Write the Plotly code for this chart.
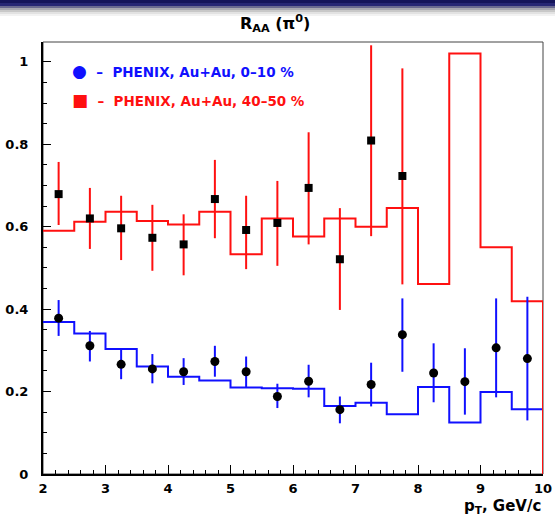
import plotly.graph_objects as go

# ---- data ----
bin_edges = [2.0, 2.5, 3.0, 3.5, 4.0, 4.5, 5.0, 5.5, 6.0, 6.5, 7.0, 7.5, 8.0, 8.5, 9.0, 9.5, 10.0]
theory_40_50 = [0.590, 0.612, 0.636, 0.614, 0.605, 0.636, 0.533, 0.620,
                0.576, 0.620, 0.600, 0.645, 0.461, 1.020, 0.550, 0.419]
theory_0_10 = [0.369, 0.341, 0.303, 0.261, 0.236, 0.227, 0.210, 0.208,
               0.207, 0.165, 0.173, 0.145, 0.211, 0.125, 0.199, 0.157]

pt_40_50 = [2.25, 2.75, 3.25, 3.75, 4.25, 4.75, 5.25, 5.75, 6.25, 6.75, 7.25, 7.75]
raa_40_50 = [0.679, 0.620, 0.596, 0.573, 0.557, 0.667, 0.592, 0.609, 0.694, 0.521, 0.809, 0.723]
hi_40_50 = [0.757, 0.694, 0.675, 0.653, 0.630, 0.762, 0.675, 0.711, 0.829, 0.645, 1.040, 0.984]
lo_40_50 = [0.604, 0.546, 0.519, 0.493, 0.482, 0.572, 0.497, 0.505, 0.557, 0.398, 0.577, 0.460]

pt_0_10 = [2.25, 2.75, 3.25, 3.75, 4.25, 4.75, 5.25, 5.75, 6.25, 6.75, 7.25, 7.75, 8.25, 8.75, 9.25, 9.75]
raa_0_10 = [0.378, 0.311, 0.266, 0.255, 0.248, 0.273, 0.248, 0.188, 0.225, 0.156, 0.217, 0.338,
            0.245, 0.224, 0.306, 0.280]
hi_0_10 = [0.422, 0.347, 0.303, 0.291, 0.281, 0.311, 0.285, 0.219, 0.265, 0.188, 0.270, 0.426,
           0.317, 0.305, 0.426, 0.430]
lo_0_10 = [0.335, 0.273, 0.230, 0.220, 0.216, 0.236, 0.211, 0.160, 0.186, 0.123, 0.164, 0.248,
           0.174, 0.144, 0.186, 0.130]

y_ticks = [0, 0.2, 0.4, 0.6, 0.8, 1.0]
y_tick_text = ["0", "0.2", "0.4", "0.6", "0.8", "1"]
x_ticks = [2, 3, 4, 5, 6, 7, 8, 9, 10]

RED = "#ff1010"
BLUE = "#1010ff"


def hist_xy(edges, vals):
    xs = list(edges) + [edges[-1]]
    ys = list(vals) + [vals[-1], 0]
    return xs, ys


fig = go.Figure()

for vals, col in [(theory_0_10, BLUE), (theory_40_50, RED)]:
    hx, hy = hist_xy(bin_edges, vals)
    fig.add_trace(go.Scatter(x=hx, y=hy, mode="lines", line=dict(color=col, width=2, shape="hv"),
                             showlegend=False, hoverinfo="skip", cliponaxis=False))

for xs, ys, hi, lo, col, sym, sz in [
    (pt_0_10, raa_0_10, hi_0_10, lo_0_10, BLUE, "circle", 9),
    (pt_40_50, raa_40_50, hi_40_50, lo_40_50, RED, "square", 8),
]:
    fig.add_trace(go.Scatter(
        x=xs, y=ys, mode="markers",
        marker=dict(color="black", symbol=sym, size=sz, line=dict(width=0)),
        error_y=dict(type="data", symmetric=False,
                     array=[h - y for h, y in zip(hi, ys)],
                     arrayminus=[y - l for y, l in zip(ys, lo)],
                     color=col, thickness=2, width=0),
        showlegend=False))

tick_font = dict(family="DejaVu Sans", size=13, color="black", weight="bold")

fig.update_xaxes(range=[2, 10], tickvals=x_ticks, ticks="inside", ticklen=9, tickwidth=1,
                 tickcolor="black", showline=True, linecolor="black", linewidth=2,
                 showgrid=False, zeroline=False, tickfont=tick_font, ticklabelstandoff=1,
                 automargin=False,
                 minor=dict(dtick=0.2, ticks="inside", ticklen=4, tickcolor="black"))
fig.update_yaxes(range=[0, 1.048], tickvals=y_ticks, ticktext=y_tick_text, ticks="inside",
                 ticklen=8, tickwidth=1, tickcolor="black", showline=True, linecolor="black",
                 linewidth=2, showgrid=False, zeroline=False, tickfont=tick_font,
                 ticklabelstandoff=10, automargin=False,
                 minor=dict(dtick=0.05, ticks="inside", ticklen=4, tickcolor="black"))

shapes = [dict(type="rect", xref="paper", yref="paper", x0=0, x1=1, y0=0, y1=1,
               line=dict(color="#444444", width=1), layer="below")]

# slide header band (pixel rows converted to paper coords)
H = 432.0
W = 500.0
def py(p):
    return 1 + (42 - p) / H
band = [(0, 3, "#14145a"), (3, 6, "#262674"), (6, 8, "#6a6a90"), (8, 10, "#a8a8b0"),
        (10, 12, "#c8c8c8"), (12, 14, "#e2e2e2"), (14, 16, "#f2f2f2")]
for a, b, c in band:
    shapes.append(dict(type="rect", xref="paper", yref="paper", x0=-43 / W, x1=1 + 12 / W,
                       y0=py(b), y1=py(a), line=dict(width=0), fillcolor=c, layer="below"))

legend_font = dict(family="DejaVu Sans", size=13.5, weight="bold")
annotations = [
    dict(text="R<sub>AA</sub> (π<sup>0</sup>)", xref="paper", yref="paper",
         x=(275 - 43) / W, y=py(23), showarrow=False, xanchor="center", yanchor="middle",
         font=dict(family="DejaVu Sans", size=16, color="black", weight="bold")),
    dict(text="p<sub>T</sub>, GeV/c", xref="paper", yref="paper", x=1, y=py(506),
         showarrow=False, xanchor="right", yanchor="middle",
         font=dict(family="DejaVu Sans", size=15, color="black", weight="bold")),
    dict(text="<span style='font-size:17px'>●</span>  –  PHENIX, Au+Au, 0–10 %",
         xref="paper", yref="paper",
         x=(70 - 43) / W, y=py(71), showarrow=False, xanchor="left", yanchor="middle",
         font=dict(color=BLUE, **legend_font)),
    dict(text="<span style='font-size:17px'>■</span>  –  PHENIX, Au+Au, 40–50 %",
         xref="paper", yref="paper",
         x=(70 - 43) / W, y=py(100), showarrow=False, xanchor="left", yanchor="middle",
         font=dict(color=RED, **legend_font)),
]

fig.update_layout(
    width=555, height=516,
    margin=dict(l=43, r=12, t=42, b=42, autoexpand=False),
    paper_bgcolor="white", plot_bgcolor="white",
    shapes=shapes, annotations=annotations, showlegend=False,
)

fig.write_html("out.html", config={"displayModeBar": False},
               post_script="document.body.style.margin='0px';document.body.style.overflow='hidden';")
